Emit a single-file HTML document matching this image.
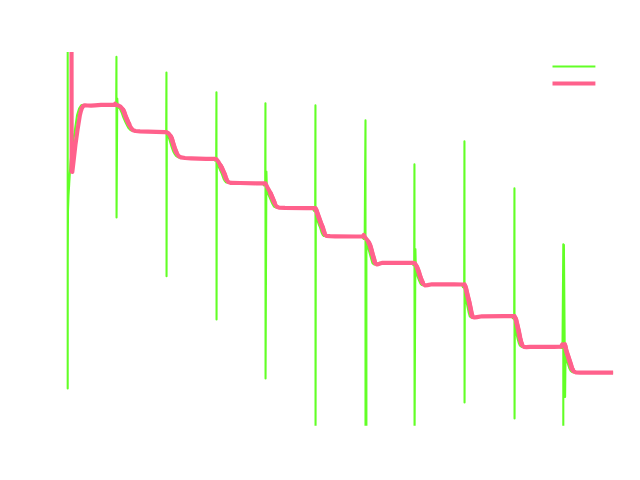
<!DOCTYPE html>
<html><head><meta charset="utf-8"><style>
html,body{margin:0;padding:0;background:#fff;}
svg{display:block;}
</style></head><body>
<svg width="640" height="480" viewBox="0 0 640 480">
<defs><clipPath id="c"><rect x="0" y="51.9" width="640" height="373.8"/></clipPath></defs>
<rect width="640" height="480" fill="#fff"/>
<g clip-path="url(#c)" fill="none" stroke-linejoin="round" stroke-linecap="butt">
<path d="M67.70 20.00 L67.70 388.50 L67.75 260.00 L68.00 210.00 L68.50 196.00 L69.20 184.00 L69.80 174.00 L70.40 164.00 L71.40 153.00 L72.70 143.00 L74.50 133.00 L77.10 115.00 L79.10 108.50 L81.20 105.30 L83.50 104.80 L84.50 105.47 L85.50 105.53 L86.50 105.59 L87.50 105.65 L88.50 105.69 L89.50 105.62 L90.50 105.54 L91.50 105.47 L92.50 105.39 L93.50 105.31 L94.50 105.23 L95.50 105.14 L96.50 105.06 L97.50 104.98 L98.50 104.90 L99.50 104.90 L100.50 104.90 L101.50 104.90 L102.50 104.90 L103.50 104.90 L104.50 104.90 L105.50 104.90 L106.50 104.90 L107.50 104.90 L108.50 104.90 L109.50 104.90 L110.50 104.90 L111.50 104.90 L112.50 104.95 L113.50 105.04 L114.50 105.18 L115.30 104.90 L116.20 104.90 L116.45 56.90 L116.55 217.50 L117.25 98.50 L117.75 106.52 L118.75 107.53 L119.75 108.63 L120.75 110.50 L121.75 112.83 L122.75 115.77 L123.75 118.24 L124.75 120.56 L125.75 122.80 L126.75 124.80 L127.75 126.65 L128.75 128.35 L129.75 129.41 L130.75 130.28 L131.75 130.62 L132.75 130.95 L133.75 131.06 L134.75 131.12 L135.75 131.19 L136.75 131.26 L137.75 131.31 L138.75 131.35 L139.75 131.39 L140.75 131.43 L141.75 131.46 L142.75 131.50 L143.75 131.54 L144.75 131.58 L145.75 131.61 L146.75 131.65 L147.75 131.69 L148.75 131.73 L149.75 131.76 L150.75 131.80 L151.75 131.84 L152.75 131.88 L153.75 131.91 L154.75 131.93 L155.75 131.96 L156.75 131.98 L157.75 132.00 L158.75 132.03 L159.75 132.05 L160.75 132.07 L161.75 132.10 L162.75 132.10 L163.75 132.13 L164.75 132.72 L165.30 132.05 L166.20 132.05 L166.45 72.60 L166.55 276.30 L166.80 134.50 L167.80 135.80 L168.80 137.80 L169.80 140.90 L170.80 144.25 L171.80 147.48 L172.80 150.25 L173.80 152.46 L174.80 154.25 L175.80 155.63 L176.80 156.40 L177.80 157.03 L178.80 157.46 L179.80 157.61 L180.80 157.76 L181.80 157.91 L182.80 158.02 L183.80 158.07 L184.80 158.12 L185.80 158.17 L186.80 158.22 L187.80 158.27 L188.80 158.32 L189.80 158.36 L190.80 158.40 L191.80 158.44 L192.80 158.48 L193.80 158.52 L194.80 158.56 L195.80 158.60 L196.80 158.64 L197.80 158.68 L198.80 158.72 L199.80 158.76 L200.80 158.80 L201.80 158.84 L202.80 158.88 L203.80 158.90 L204.80 158.88 L205.80 158.87 L206.80 158.86 L207.80 158.85 L208.80 158.84 L209.80 158.82 L210.80 158.81 L211.80 158.80 L212.80 158.99 L213.80 159.20 L214.80 160.50 L215.30 158.82 L216.20 158.82 L216.45 92.20 L216.55 319.40 L216.80 163.51 L217.80 165.29 L218.80 167.12 L219.80 169.36 L220.80 171.59 L221.80 173.78 L222.80 176.70 L223.80 179.26 L224.80 180.92 L225.80 182.13 L226.80 182.43 L227.80 182.72 L228.80 182.90 L229.80 182.92 L230.80 182.93 L231.80 182.94 L232.80 182.95 L233.80 182.96 L234.80 182.97 L235.80 182.98 L236.80 182.99 L237.80 183.01 L238.80 183.03 L239.80 183.05 L240.80 183.06 L241.80 183.08 L242.80 183.10 L243.80 183.12 L244.80 183.14 L245.80 183.16 L246.80 183.18 L247.80 183.20 L248.80 183.21 L249.80 183.23 L250.80 183.25 L251.80 183.27 L252.80 183.29 L253.80 183.31 L254.80 183.32 L255.80 183.33 L256.80 183.34 L257.80 183.36 L258.80 183.37 L259.80 183.38 L260.80 183.39 L261.80 183.40 L262.80 183.40 L263.80 185.35 L264.30 183.37 L265.20 183.37 L265.45 103.20 L265.55 378.50 L266.40 171.50 L266.90 191.05 L267.90 193.28 L268.90 195.64 L269.90 198.02 L270.90 200.40 L271.90 202.80 L272.90 204.83 L273.90 206.50 L274.90 206.94 L275.90 207.38 L276.90 207.62 L277.90 207.68 L278.90 207.72 L279.90 207.78 L280.90 207.82 L281.90 207.88 L282.90 207.91 L283.90 207.92 L284.90 207.94 L285.90 207.95 L286.90 207.96 L287.90 207.98 L288.90 207.99 L289.90 208.01 L290.90 208.02 L291.90 208.04 L292.90 208.05 L293.90 208.06 L294.90 208.08 L295.90 208.09 L296.90 208.11 L297.90 208.12 L298.90 208.14 L299.90 208.15 L300.90 208.16 L301.90 208.18 L302.90 208.19 L303.90 208.19 L304.90 208.18 L305.90 208.17 L306.90 208.16 L307.90 208.14 L308.90 208.13 L309.90 208.12 L310.90 208.11 L311.90 208.10 L312.90 208.54 L313.90 210.79 L314.30 208.13 L315.20 208.13 L315.45 105.40 L315.55 440.00 L315.80 216.22 L316.80 218.99 L317.80 221.77 L318.80 224.50 L319.80 226.77 L320.80 230.00 L321.80 233.10 L322.80 234.94 L323.80 235.91 L324.80 235.99 L325.80 236.07 L326.80 236.15 L327.80 236.21 L328.80 236.23 L329.80 236.25 L330.80 236.27 L331.80 236.29 L332.80 236.30 L333.80 236.31 L334.80 236.32 L335.80 236.33 L336.80 236.34 L337.80 236.35 L338.80 236.36 L339.80 236.37 L340.80 236.38 L341.80 236.39 L342.80 236.40 L343.80 236.41 L344.80 236.42 L345.80 236.43 L346.80 236.44 L347.80 236.45 L348.80 236.46 L349.80 236.47 L350.80 236.48 L351.80 236.48 L352.80 236.49 L353.80 236.49 L354.80 236.48 L355.80 236.46 L356.80 236.45 L357.80 236.43 L358.80 236.42 L359.80 236.40 L360.80 236.56 L361.80 236.76 L362.80 237.79 L363.80 239.02 L364.70 236.42 L365.50 120.40 L365.50 440.00 M366.40 440.00 L366.40 240.42 L367.40 245.29 L368.40 248.62 L369.40 252.25 L370.40 255.88 L371.40 259.36 L372.40 262.94 L373.40 263.87 L374.40 264.50 L375.40 264.30 L376.40 263.95 L377.40 263.60 L378.40 263.25 L379.40 262.90 L380.40 262.90 L381.40 262.89 L382.40 262.89 L383.40 262.88 L384.40 262.88 L385.40 262.88 L386.40 262.87 L387.40 262.87 L388.40 262.86 L389.40 262.86 L390.40 262.85 L391.40 262.85 L392.40 262.85 L393.40 262.84 L394.40 262.84 L395.40 262.83 L396.40 262.83 L397.40 262.82 L398.40 262.82 L399.40 262.82 L400.40 262.81 L401.40 262.81 L402.40 262.80 L403.40 262.80 L404.40 262.81 L405.40 262.83 L406.40 262.84 L407.40 262.86 L408.40 262.87 L409.40 262.89 L410.40 262.90 L411.40 262.96 L412.40 263.59 L413.40 265.06 L413.30 262.86 L414.20 262.86 L414.45 164.40 L414.55 440.00 L415.40 249.00 L415.90 271.23 L416.90 274.50 L417.90 277.41 L418.90 280.00 L419.90 282.40 L420.90 284.15 L421.90 285.04 L422.90 285.25 L423.90 285.17 L424.90 285.10 L425.90 284.92 L426.90 284.74 L427.90 284.57 L428.90 284.39 L429.90 284.30 L430.90 284.31 L431.90 284.31 L432.90 284.32 L433.90 284.32 L434.90 284.32 L435.90 284.33 L436.90 284.33 L437.90 284.34 L438.90 284.34 L439.90 284.35 L440.90 284.35 L441.90 284.36 L442.90 284.36 L443.90 284.37 L444.90 284.37 L445.90 284.38 L446.90 284.38 L447.90 284.38 L448.90 284.39 L449.90 284.39 L450.90 284.40 L451.90 284.41 L452.90 284.42 L453.90 284.43 L454.90 284.44 L455.90 284.45 L456.90 284.46 L457.90 284.47 L458.90 284.49 L459.90 284.50 L460.90 284.46 L461.90 284.41 L462.90 287.24 L463.30 284.47 L464.20 284.47 L464.45 141.40 L464.55 402.40 L464.80 295.00 L465.80 299.00 L466.80 303.23 L467.80 308.00 L468.80 313.00 L469.80 316.38 L470.80 317.21 L471.80 317.47 L472.80 317.36 L473.80 317.20 L474.80 317.04 L475.80 316.88 L476.80 316.72 L477.80 316.56 L478.80 316.40 L479.80 316.30 L480.80 316.29 L481.80 316.28 L482.80 316.27 L483.80 316.26 L484.80 316.25 L485.80 316.24 L486.80 316.23 L487.80 316.22 L488.80 316.21 L489.80 316.21 L490.80 316.20 L491.80 316.19 L492.80 316.18 L493.80 316.17 L494.80 316.16 L495.80 316.15 L496.80 316.14 L497.80 316.13 L498.80 316.12 L499.80 316.11 L500.80 316.11 L501.80 316.10 L502.80 316.10 L503.80 316.10 L504.80 316.10 L505.80 316.10 L506.80 316.10 L507.80 316.10 L508.80 316.10 L509.80 316.10 L510.80 316.13 L511.80 316.19 L512.80 318.26 L513.30 316.10 L514.20 316.10 L514.45 188.40 L514.55 418.40 L514.80 325.74 L515.80 330.00 L516.80 335.00 L517.80 339.55 L518.80 343.02 L519.80 345.39 L520.80 346.34 L521.80 346.95 L522.80 347.07 L523.80 347.19 L524.80 347.12 L525.80 347.04 L526.80 346.95 L527.80 346.90 L528.80 346.90 L529.80 346.90 L530.80 346.90 L531.80 346.90 L532.80 346.90 L533.80 346.90 L534.80 346.90 L535.80 346.90 L536.80 346.90 L537.80 346.90 L538.80 346.90 L539.80 346.90 L540.80 346.90 L541.80 346.90 L542.80 346.90 L543.80 346.90 L544.80 346.90 L545.80 346.90 L546.80 346.90 L547.80 346.90 L548.80 346.90 L549.80 346.90 L550.80 346.90 L551.80 346.89 L552.80 346.86 L553.80 346.83 L554.80 346.80 L555.80 346.77 L556.80 346.75 L557.80 346.72 L558.80 346.85 L559.80 347.24 L560.80 347.62 L561.80 348.00 L562.50 346.74 L563.30 244.30 L563.30 440.00 M563.90 244.30 L565.10 397.00 L565.50 356.31 L566.50 359.38 L567.50 362.46 L568.50 365.67 L569.50 368.56 L570.50 370.45 L571.50 371.51 L572.50 372.03 L573.50 372.50 L574.50 372.53 L575.50 372.55 L576.50 372.58 L577.50 372.60 L578.50 372.60 L579.50 372.60 L580.50 372.60 L581.50 372.60 L582.50 372.60 L583.50 372.60 L584.50 372.60 L585.50 372.60 L586.50 372.60 L587.50 372.60 L588.50 372.60 L589.50 372.60 L590.50 372.60 L591.50 372.60 L592.50 372.60 L593.50 372.60 L594.50 372.60 L595.50 372.60 L596.50 372.60 L597.50 372.60 L598.50 372.60 L599.50 372.60 L600.50 372.60 L601.50 372.60 L602.50 372.60 L603.50 372.60 L604.50 372.60 L605.50 372.60 L606.50 372.60 L607.50 372.60 L608.50 372.60 L609.50 372.60 L613.10 372.60" stroke="#62ff26" stroke-width="2.08"/>
<path d="M71.50 30.00 L71.65 171.60 L72.30 171.90 L73.70 160.00 L75.40 145.00 L77.50 130.00 L79.90 115.00 L80.90 111.00 L81.90 108.00 L83.20 106.00 L85.00 105.30 L87.50 105.50 L91.00 105.70 L95.00 105.40 L101.00 104.90 L114.40 104.90 L115.10 103.70 L115.80 105.00 L118.00 105.30 L120.50 106.60 L122.50 108.80 L124.00 111.80 L125.60 116.50 L128.10 122.30 L129.80 125.70 L131.30 128.30 L133.10 130.20 L135.50 131.00 L140.00 131.30 L156.00 131.90 L164.50 132.10 L166.30 132.10 L168.50 133.40 L170.30 135.60 L171.60 138.20 L173.20 143.60 L174.50 147.80 L175.60 150.80 L177.00 153.70 L178.60 155.90 L181.00 157.40 L185.00 158.00 L191.00 158.30 L206.00 158.90 L214.50 158.80 L216.40 159.20 L218.40 161.80 L219.80 164.20 L221.50 167.30 L222.90 170.50 L224.50 174.00 L225.60 177.30 L226.70 180.00 L228.30 182.10 L231.00 182.90 L240.00 183.00 L256.00 183.30 L264.00 183.40 L265.40 183.40 L267.50 187.50 L269.70 191.40 L271.40 195.40 L273.50 200.40 L275.00 204.00 L276.50 206.50 L279.00 207.60 L285.00 207.90 L306.00 208.20 L314.00 208.10 L315.30 208.10 L316.40 210.50 L317.60 214.00 L318.90 217.60 L320.30 221.50 L321.40 224.50 L322.50 227.00 L323.70 231.00 L324.80 234.30 L326.30 235.90 L330.00 236.20 L335.00 236.30 L356.00 236.50 L362.60 236.40 L363.70 234.90 L364.60 236.80 L368.00 241.00 L370.10 245.50 L371.40 250.00 L372.60 254.50 L373.90 259.00 L375.10 263.30 L377.00 264.50 L378.00 264.30 L382.00 262.90 L406.00 262.80 L413.00 262.90 L414.60 263.00 L416.30 265.50 L417.50 268.50 L418.60 271.50 L419.80 275.50 L420.90 278.50 L421.90 281.00 L423.10 283.80 L424.80 285.30 L427.50 285.10 L432.00 284.30 L454.00 284.40 L462.80 284.50 L464.60 284.40 L465.90 288.50 L467.40 295.00 L469.10 301.80 L470.30 307.50 L471.55 313.75 L472.60 317.00 L474.50 317.50 L477.00 317.10 L482.00 316.30 L504.00 316.10 L512.80 316.10 L514.60 316.20 L516.00 319.80 L517.05 324.25 L518.40 330.00 L519.90 337.50 L521.00 342.00 L522.30 345.30 L524.00 346.90 L526.50 347.20 L530.00 346.90 L554.00 346.90 L561.00 346.70 L562.30 344.40 L563.70 345.80 L564.90 344.20 L565.70 348.50 L566.80 352.50 L568.00 356.00 L569.30 360.00 L570.60 364.00 L571.80 368.00 L573.50 371.20 L576.00 372.50 L580.00 372.60 L613.10 372.60" stroke="#ff618c" stroke-width="4.17"/>
<path d="M123.17 110.15 L124.00 111.80 L125.60 116.50 L128.10 122.30 L129.03 124.17 M170.88 136.77 L171.60 138.20 L173.20 143.60 L174.50 147.80 L175.60 150.80 L176.37 152.40 M220.56 165.59 L221.50 167.30 L222.90 170.50 L224.50 174.00 L225.60 177.30 L226.20 178.78 M270.46 193.20 L271.40 195.40 L273.50 200.40 L274.32 202.38 M315.80 209.18 L316.40 210.50 L317.60 214.00 L318.90 217.60 L320.30 221.50 L321.40 224.50 L322.50 227.00 L323.70 231.00 L324.31 232.81 M368.94 243.03 L370.10 245.50 L371.40 250.00 L372.60 254.50 L373.90 259.00 L374.56 261.37 M416.84 266.85 L417.50 268.50 L418.60 271.50 L419.80 275.50 L420.90 278.50 L421.90 281.00 L422.56 282.54 M465.19 286.25 L465.90 288.50 L467.40 295.00 L469.10 301.80 L470.30 307.50 L471.55 313.75 L472.13 315.54 M515.23 317.82 L516.00 319.80 L517.05 324.25 L518.40 330.00 L519.90 337.50 L521.00 342.00 L521.71 343.81 M565.26 346.13 L565.70 348.50 L566.80 352.50 L568.00 356.00 L569.30 360.00 L570.60 364.00 L571.80 368.00 L572.74 369.76" stroke="#ff618c" stroke-width="4.7" stroke-linecap="round"/>
</g>
<line x1="552.5" y1="66.5" x2="595.4" y2="66.5" stroke="#62ff26" stroke-width="2.08"/>
<line x1="552.5" y1="83.5" x2="595.4" y2="83.5" stroke="#ff618c" stroke-width="4.17"/>
</svg>
</body></html>
